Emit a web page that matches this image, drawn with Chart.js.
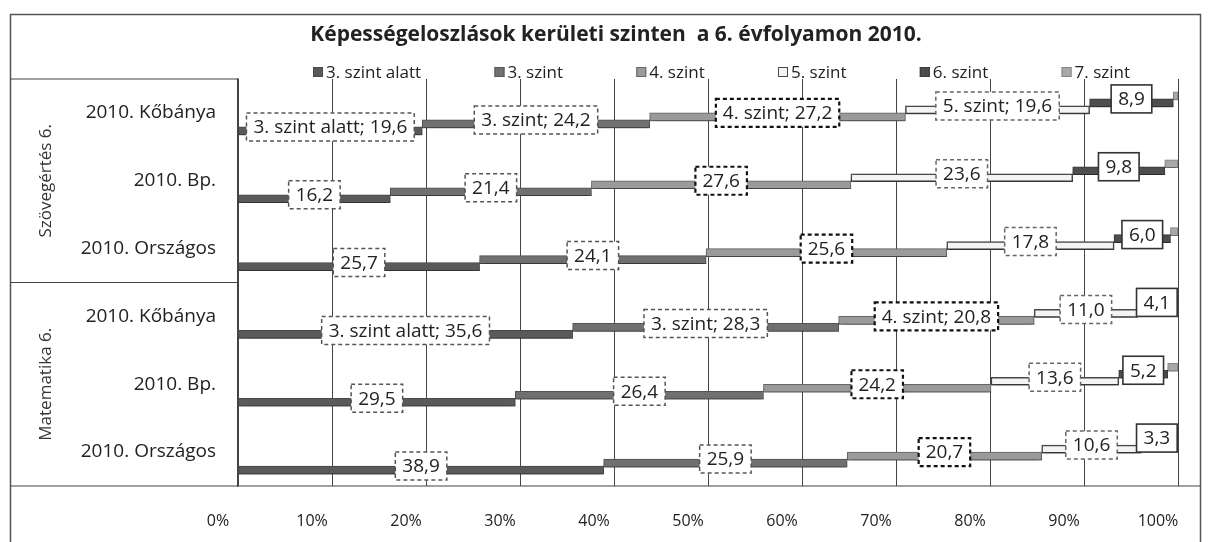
<!DOCTYPE html>
<html>
<head>
<meta charset="utf-8">
<script src="https://cdn.jsdelivr.net/npm/chart.js@4"></script>
<style>
  html, body { margin: 0; padding: 0; background: #fff; }
  #wrap { width: 1209px; height: 542px; }
</style>
</head>
<body>
<div id="wrap"><canvas id="kepessegChart" width="1209" height="542"></canvas></div>
<script>
// adatok
const chartTitle = 'Képességeloszlások kerületi szinten  a 6. évfolyamon 2010.';
const categories = ['2010. Kőbánya', '2010. Bp.', '2010. Országos', '2010. Kőbánya', '2010. Bp.', '2010. Országos'];
const groups = ['Szövegértés 6.', 'Matematika 6.'];
const seriesNames = ['3. szint alatt', '3. szint', '4. szint', '5. szint', '6. szint', '7. szint'];
const szint3Alatt = [19.6, 16.2, 25.7, 35.6, 29.5, 38.9];
const szint3 = [24.2, 21.4, 24.1, 28.3, 26.4, 25.9];
const szint4 = [27.2, 27.6, 25.6, 20.8, 24.2, 20.7];
const szint5 = [19.6, 23.6, 17.8, 11.0, 13.6, 10.6];
const szint6 = [8.9, 9.8, 6.0, 4.1, 5.2, 3.3];
const szint7 = [0.5, 1.4, 0.8, 0.2, 1.1, 0.6];
const xTickLabels = ['0%', '10%', '20%', '30%', '40%', '50%', '60%', '70%', '80%', '90%', '100%'];
// melyik címkében szerepel a sorozat neve is
const withName = [
    [true, true, true, true, false],
    [false, false, false, false, false],
    [false, false, false, false, false],
    [true, true, true, false, false],
    [false, false, false, false, false],
    [false, false, false, false, false]
];

const FONT = '"Open Sans", "Noto Sans", sans-serif';

// stílusok sorozatonként
const barFill = ['#5a5a5a', '#707070', '#9a9a9a', '#f4f4f4', '#4e4e4e', '#a8a8a8'];
const barBorder = ['#4a4a4a', '#555555', '#666666', '#4a4a4a', '#3a3a3a', '#888888'];
const boxStyle = [
    { dash: [4, 3], width: 1.5, color: '#555' },
    { dash: [4, 3], width: 1.5, color: '#555' },
    { dash: [4, 3], width: 2.2, color: '#111' },
    { dash: [4, 3], width: 1.5, color: '#666' },
    { dash: [], width: 1.6, color: '#333' }
];

// 3D-s lépcsőhatás: minden sorozat kicsit feljebb kerül
function stepOffset(i) {
    return 18 - 7 * i;
}

function fmt(v) {
    return v.toFixed(1).replace('.', ',');
}

// lépcső és árnyék a sávokhoz
const stepPlugin = {
    id: 'step',
    beforeDatasetDraw(chart, args) {
        const ctx = chart.ctx;
        ctx.save();
        ctx.translate(0, stepOffset(args.index));
        ctx.shadowColor = 'rgba(0,0,0,0.5)';
        ctx.shadowBlur = 6;
        ctx.shadowOffsetY = 5;
    },
    afterDatasetDraw(chart) {
        chart.ctx.restore();
    }
};

// keret, cím, csoportfeliratok, adatcímkék, jelmagyarázat
const decorPlugin = {
    id: 'decor',
    beforeDraw(chart) {
        const ctx = chart.ctx;
        ctx.save();
        ctx.fillStyle = '#fff';
        ctx.fillRect(0, 0, chart.width, chart.height);
        ctx.restore();
    },
    afterDatasetsDraw(chart) {
        const ctx = chart.ctx;
        const yScale = chart.scales.y;
        const area = chart.chartArea;

        ctx.save();
        // külső keret
        ctx.strokeStyle = '#555';
        ctx.lineWidth = 1.5;
        ctx.strokeRect(10.5, 14.5, 1190, 560);

        // cím
        ctx.fillStyle = '#222';
        ctx.font = 'bold 21px ' + FONT;
        ctx.textAlign = 'center';
        ctx.textBaseline = 'middle';
        ctx.fillText(chartTitle, 616, 35);

        // kategória-doboz vonalai
        const yTop = yScale.getPixelForValue(-0.5);
        const yMid = yScale.getPixelForValue(2.5);
        const yBot = yScale.getPixelForValue(5.5);
        ctx.strokeStyle = '#444';
        ctx.lineWidth = 1.2;
        ctx.beginPath();
        ctx.moveTo(10, yTop); ctx.lineTo(area.left, yTop);
        ctx.moveTo(10, yMid); ctx.lineTo(area.left, yMid);
        ctx.moveTo(10, yBot); ctx.lineTo(1200, yBot);
        ctx.stroke();

        // csoportfeliratok függőlegesen
        ctx.fillStyle = '#333';
        ctx.font = '17px ' + FONT;
        [[yTop, yMid], [yMid, yBot]].forEach((r, g) => {
            ctx.save();
            ctx.translate(46, (r[0] + r[1]) / 2);
            ctx.rotate(-Math.PI / 2);
            ctx.fillText(groups[g], 0, 0);
            ctx.restore();
        });

        // adatcímkék
        ctx.font = '19px ' + FONT;
        for (let i = 0; i < 5; i++) {
            const meta = chart.getDatasetMeta(i);
            const st = boxStyle[i];
            meta.data.forEach((bar, j) => {
                const value = chart.data.datasets[i].data[j];
                const text = withName[j][i] ? seriesNames[i] + '; ' + fmt(value) : fmt(value);
                const cx = (bar.x + bar.base) / 2;
                const cy = bar.y + stepOffset(i) - 4;
                const w = ctx.measureText(text).width + 14;
                const h = 28;
                ctx.fillStyle = '#fff';
                ctx.fillRect(cx - w / 2, cy - h / 2, w, h);
                ctx.setLineDash(st.dash);
                ctx.lineWidth = st.width;
                ctx.strokeStyle = st.color;
                ctx.strokeRect(cx - w / 2, cy - h / 2, w, h);
                ctx.setLineDash([]);
                ctx.fillStyle = '#222';
                ctx.fillText(text, cx, cy + 1);
            });
        }

        // jelmagyarázat
        ctx.font = '17px ' + FONT;
        ctx.textAlign = 'left';
        const box = 10;
        const widths = seriesNames.map(n => box + 3 + ctx.measureText(n).width);
        const startX = 313, endX = 1130;
        const gap = (endX - startX - widths.reduce((a, b) => a + b, 0)) / (seriesNames.length - 1);
        let x = startX;
        const ly = 72;
        seriesNames.forEach((name, i) => {
            ctx.fillStyle = barFill[i];
            ctx.fillRect(x, ly - box / 2, box, box);
            ctx.strokeStyle = barBorder[i];
            ctx.lineWidth = 1;
            ctx.strokeRect(x + 0.5, ly - box / 2 + 0.5, box - 1, box - 1);
            ctx.fillStyle = '#222';
            ctx.fillText(name, x + box + 3, ly + 1);
            x += widths[i] + gap;
        });
        ctx.restore();
    }
};

window.addEventListener('DOMContentLoaded', function() {
    const allSeries = [szint3Alatt, szint3, szint4, szint5, szint6, szint7];
    const ctx = document.getElementById('kepessegChart').getContext('2d');

    new Chart(ctx, {
        type: 'bar',
        data: {
            labels: categories,
            datasets: allSeries.map((values, i) => ({
                label: seriesNames[i],
                data: values,
                backgroundColor: barFill[i],
                borderColor: barBorder[i],
                borderWidth: i === 3 ? 1.5 : 1,
                borderSkipped: false,
                barThickness: 8
            }))
        },
        options: {
            indexAxis: 'y',
            responsive: false,
            animation: false,
            layout: { autoPadding: false, padding: { left: 10, right: 31, top: 79, bottom: 11 } },
            scales: {
                x: {
                    stacked: true,
                    min: 0,
                    max: 100,
                    grid: { color: '#444', lineWidth: 1, drawTicks: false },
                    border: { display: false },
                    ticks: {
                        stepSize: 10,
                        padding: 26,
                        labelOffset: -20,
                        maxRotation: 0,
                        color: '#222',
                        font: { family: FONT, size: 16 },
                        callback: (v, idx) => xTickLabels[idx]
                    },
                    afterFit: s => {
                        s.height = 45;
                        s.paddingLeft = 0;
                        s.paddingRight = 0;
                    }
                },
                y: {
                    stacked: true,
                    grid: { display: false },
                    border: { display: true, color: '#444', width: 1.2 },
                    ticks: {
                        color: '#222',
                        padding: 14,
                        font: { family: FONT, size: 19 }
                    },
                    afterFit: s => {
                        s.width = 228;
                        s.paddingTop = 0;
                        s.paddingBottom = 0;
                    }
                }
            },
            plugins: {
                legend: { display: false },
                tooltip: { enabled: false },
                title: { display: false }
            }
        },
        plugins: [stepPlugin, decorPlugin]
    });
});
</script>
</body>
</html>
